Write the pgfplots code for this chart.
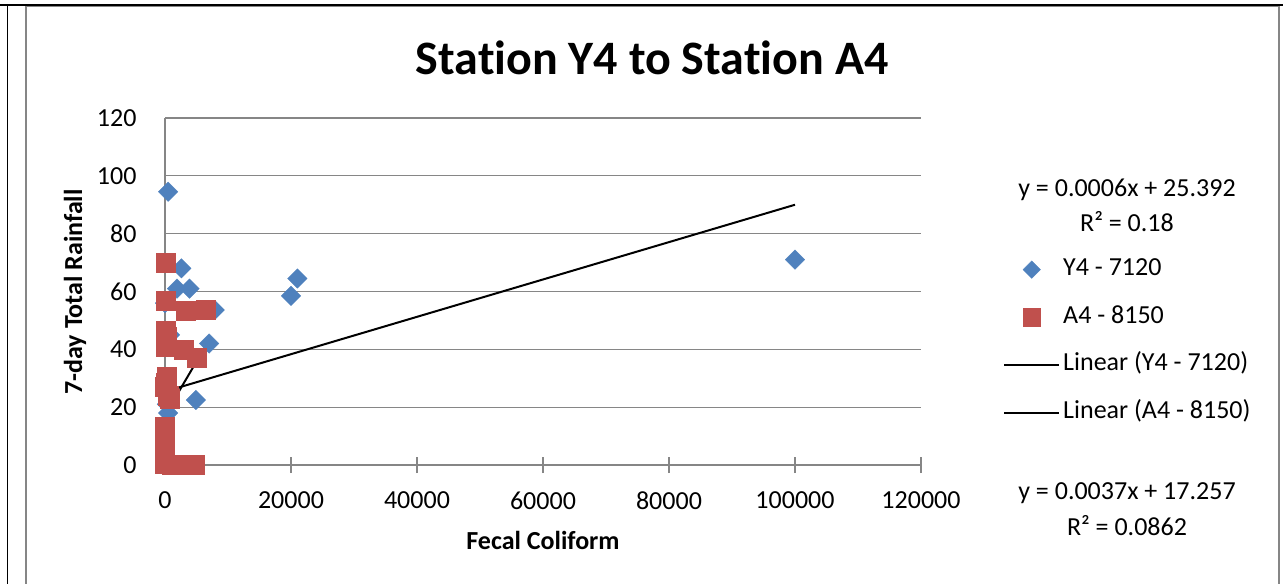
\documentclass[border=0pt]{standalone}
\usepackage{fontspec}
\setmainfont{Carlito}[Ligatures=NoCommon]
\usepackage{pgfplots}
\pgfplotsset{compat=1.18}
\definecolor{ybl}{HTML}{4F81BD}
\definecolor{ard}{HTML}{C0504D}
\definecolor{axgray}{HTML}{868686}
\newcommand{\fs}{\fontsize{26bp}{31bp}\selectfont}
\pgfplotsset{
  legline/.style={legend image code/.code={\draw[##1] (0bp,0bp) -- (55bp,0bp);}},
  legmark/.style={legend image code/.code={\path (0bp,0bp) (55bp,0bp);
        \draw[##1, mark size=#1] plot coordinates {(27.5bp,0bp)};}},
}
\begin{document}
\begin{tikzpicture}
\useasboundingbox (0bp,0bp) rectangle (1283bp,584bp);
% frame
\draw[axgray, line width=1.3bp] (26bp,-5bp) -- (26bp,578bp) -- (1279bp,578bp) -- (1279bp,-5bp);
\draw[black, line width=1.5bp] (0bp,579bp) -- (1283bp,579bp);
\draw[black, line width=1.5bp] (7.5bp,579bp) -- (7.5bp,-5bp);

\begin{axis}[
    at={(165bp,119bp)}, anchor=south west,
    scale only axis, width=756bp, height=347bp,
    xmin=0, xmax=120000, ymin=0, ymax=120,
    xtick={0,20000,40000,60000,80000,100000,120000},
    xticklabels={0,20000,40000,60000,80000,100000,120000},
    ytick={0,20,40,60,80,100,120},
    yticklabels={0,20,40,60,80,100,120},
    scaled x ticks=false,
    axis x line=bottom, axis y line=left,
    axis line style={draw=axgray, line width=1.3bp, -},
    ymajorgrids,
    grid style={axgray, line width=1.3bp},
    xtick align=center,
    major tick length=16bp,
    xtick style={axgray, line width=1.3bp},
    ytick style={draw=none},
    tick label style={font=\fs, black},
    yticklabel style={xshift=-17bp},
    xticklabel style={yshift=-15bp},
    clip=false,
    legend cell align=left,
    legend style={draw=none, fill=none, font=\fs,
        at={(1.1085,0.5955)}, anchor=north west,
        inner sep=0pt, row sep=25.7bp,
        nodes={inner ysep=0pt, inner xsep=3bp, text height=17bp, text depth=5bp}},
]

% Y4 - 7120
\addplot[only marks, mark=square*, mark size=6.9bp,
    mark options={rotate=45, fill=ybl, draw=ybl, line width=0.3bp},
    legmark=6.2bp]
coordinates {
(500,94.5) (2600,68) (1900,61) (3900,61) (0,56) (7900,53.6)
(7000,42) (4900,22.5) (500,18) (20000,58.5) (21000,64.5) (100000,71)
(800,45) (200,27) (300,21)
};
\addlegendentry{Y4 - 7120}

% A4 - 8150
\addplot[only marks, mark=square*, mark size=9.6bp,
    mark options={fill=ard, draw=ard, line width=0.3bp},
    legmark=8.8bp]
coordinates {
(100,70) (100,56.7) (3300,53.4) (6400,53.6) (100,46.5) (200,44.5)
(100,41) (2900,40) (5000,37) (200,30.5) (100,28.5) (0,27)
(500,24) (700,23) (0,13.3) (0,7.5) (0,3) (0,0.5)
(1000,0) (2900,0) (4700,0)
};
\addlegendentry{A4 - 8150}

% trendlines
\addplot[black, line width=2bp, mark=none, legline]
coordinates {(0,25.4) (100000,90)};
\addlegendentry{Linear (Y4 - 7120)}

\addplot[black, line width=2bp, mark=none, legline]
coordinates {(0,17.26) (6600,41.7)};
\addlegendentry{Linear (A4 - 8150)}
\end{axis}

% titles and labels
\node[font=\fontsize{48bp}{56bp}\selectfont\bfseries] at (652bp,526bp) {Station Y4 to Station A4};
\node[font=\fs\bfseries] at (543bp,44bp) {Fecal Coliform};
\node[font=\fs\bfseries, rotate=90] at (75bp,292bp) {7-day Total Rainfall};

% trendline equations
\node[font=\fs] at (1127bp,394bp) {y = 0.0006x + 25.392};
\node[font=\fs] at (1127bp,362bp) {R² = 0.18};
\node[font=\fs] at (1127bp,91bp) {y = 0.0037x + 17.257};
\node[font=\fs] at (1127bp,58bp) {R² = 0.0862};
\end{tikzpicture}
\end{document}
